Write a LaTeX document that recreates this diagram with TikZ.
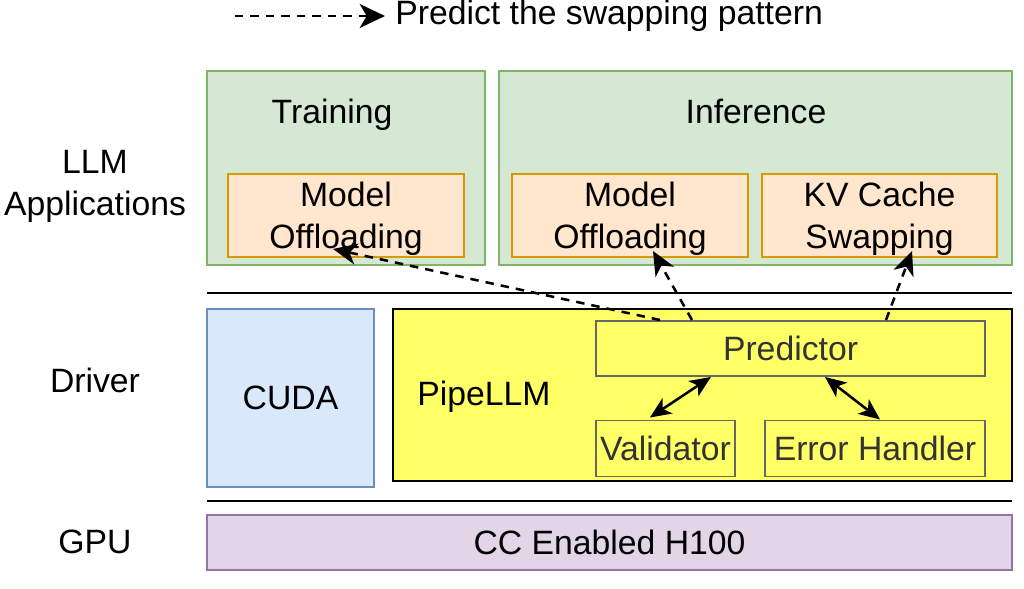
\documentclass[tikz,border=0pt]{standalone}
\usepackage{fontspec}
\setmainfont{Liberation Sans}
\usepackage{xcolor}
\usetikzlibrary{arrows.meta,positioning,calc}
\definecolor{appfill}{HTML}{D5E8D4}
\definecolor{appline}{HTML}{82B366}
\definecolor{taskfill}{HTML}{FFE6CC}
\definecolor{taskline}{HTML}{D79B00}
\definecolor{cudafill}{HTML}{DAE8FC}
\definecolor{cudaline}{HTML}{6C8EBF}
\definecolor{gpufill}{HTML}{E1D5E7}
\definecolor{gpuline}{HTML}{9673A6}
\definecolor{pipefill}{HTML}{FFFF66}
\definecolor{modline}{HTML}{666666}
\definecolor{modtext}{HTML}{333333}

\begin{document}
\begin{tikzpicture}[
  every node/.style={align=center, font=\fontsize{24}{30}\selectfont, inner sep=0pt},
  app/.style={draw=appline, fill=appfill, line width=1.4pt, minimum height=4.85cm},
  task/.style={draw=taskline, fill=taskfill, line width=1.4pt, minimum width=5.9cm, minimum height=2.075cm, text depth=0pt},
  module/.style={draw=modline, fill=pipefill, text=modtext, line width=1.4pt, minimum height=1.4cm},
  layer/.style={line width=2pt},
  pred/.style={-{Stealth[length=17pt, width=15pt, inset=5pt]}, dashed, dash pattern=on 6pt off 5pt, line width=1.8pt},
  link/.style={{Stealth[length=15pt, width=13pt, inset=4pt]}-{Stealth[length=15pt, width=13pt, inset=4pt]}, line width=1.8pt}
]
  \useasboundingbox (0,0) rectangle (25.6,14.725);

  \coordinate (legA) at (5.875,14.325);
  \coordinate (legB) at (9.625,14.325);
  \draw[pred, -{Stealth[length=18pt, width=17pt, inset=5pt]}] (legA) -- (legB);
  \node[anchor=west, right=0.25cm of legB] (legend) {Predict the swapping pattern};

  \node[app, minimum width=6.95cm] (train) at (8.65,10.525) {};
  \node[app, minimum width=12.825cm] (infer) at (18.8875,10.525) {};
  \node (trainlbl) at (8.3,11.85) {Training};
  \node (inferlbl) at (18.9,11.95) {Inference};

  \node[task] (offtrain) at (8.65,9.3375) {Model\\Offloading};
  \node[task] (offinfer) at (15.75,9.3375) {Model\\Offloading};
  \node[task, minimum width=5.875cm] (kvswap) at (21.9875,9.3375) {KV Cache\\Swapping};

  \draw[layer] (5.175,7.4) -- (25.3,7.4);
  \draw[layer] (5.175,2.2) -- (25.3,2.2);

  \node[draw=cudaline, fill=cudafill, line width=1.4pt, minimum width=4.175cm, minimum height=4.45cm] (cuda) at (7.2625,4.775) {CUDA};
  \node[draw=black, fill=pipefill, line width=2pt, minimum width=15.475cm, minimum height=4.3cm] (pipe) at (17.5625,4.85) {};
  \node (pipelbl) at (12.1,4.8) {PipeLLM};

  \node[module, minimum width=9.725cm, minimum height=1.375cm] (predictor) at (19.7625,6.0125) {Predictor};
  \node[module, minimum width=3.475cm] (validator) at (16.6375,3.5125) {Validator};
  \node[module, minimum width=5.5cm] (errhandler) at (21.875,3.5125) {Error Handler};

  \node[draw=gpuline, fill=gpufill, line width=1.4pt, minimum width=20.125cm, minimum height=1.375cm] (gpu) at (15.2375,1.1625) {CC Enabled H100};

  \node (applbl) at (2.375,10.075) {LLM\\Applications};
  \node (drvlbl) at (2.375,5.225) {Driver};
  \node (gpulbl) at (2.375,1.175) {GPU};

  \draw[pred] ($(predictor.north)+(-3.2625,0)$) -- ($(offtrain.south)+(-0.325,0.225)$);
  \draw[pred] ($(predictor.north)+(-2.4625,0)$) -- ($(offinfer.south)+(0.575,0.175)$);
  \draw[pred] ($(predictor.north)+(2.3875,0)$) -- ($(kvswap.south)+(0.8125,0.175)$);

  \draw[link] ($(validator.north)+(-0.39,0.05)$) -- ($(predictor.south)+(-1.99,0)$);
  \draw[link] ($(predictor.south)+(0.8625,0)$) -- ($(errhandler.north)+(0.125,0)$);
\end{tikzpicture}
\end{document}
